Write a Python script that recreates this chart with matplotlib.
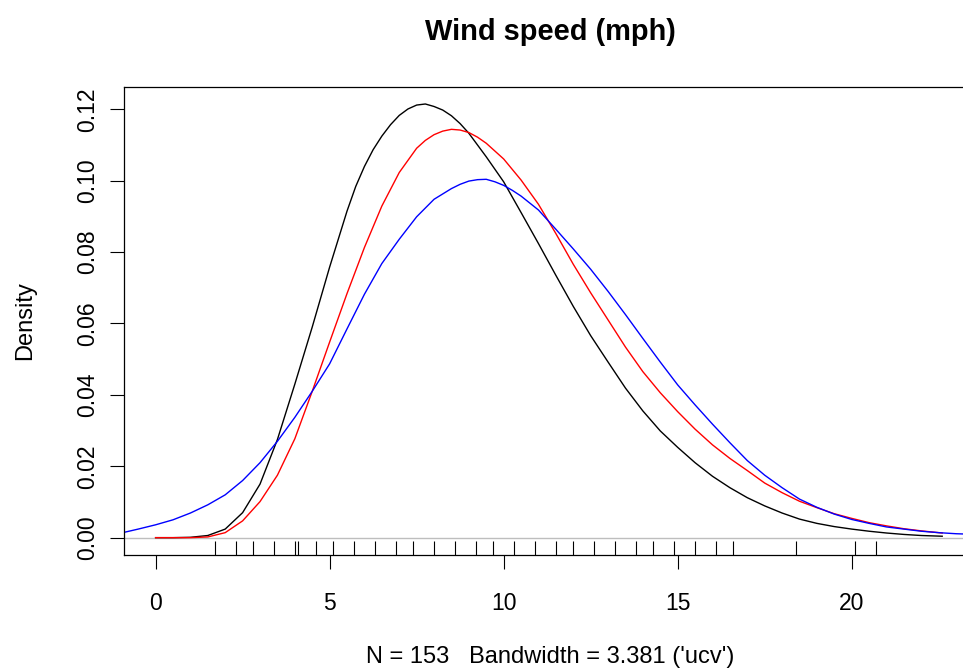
# coding: utf-8
import matplotlib
matplotlib.use('Agg')
import matplotlib.pyplot as plt

plt.rcParams['font.family'] = ['Liberation Sans', 'DejaVu Sans']

# 风速观测值 (rug)
wind = [1.7, 2.3, 2.8, 3.4, 4.0, 4.1, 4.6, 5.1, 5.7, 6.3, 6.9, 7.4, 8.0, 8.6,
        9.2, 9.7, 10.3, 10.9, 11.5, 12.0, 12.6, 13.2, 13.8, 14.3, 14.9, 15.5,
        16.1, 16.6, 18.4, 20.1, 20.7]

# 三条密度曲线
x_black = [0, 0.5, 1, 1.5, 2, 2.5, 3, 3.5, 4, 4.5, 5, 5.5, 5.75, 6, 6.25,
           6.5, 6.75, 7, 7.25, 7.5, 7.75, 8, 8.25, 8.5, 8.75, 9, 9.5, 10,
           10.5, 11, 11.5, 12, 12.5, 13, 13.5, 14, 14.5, 15, 15.5, 16, 16.5,
           17, 17.5, 18, 18.5, 19, 19.5, 20, 20.5, 21, 21.5, 22, 22.6]
y_black = [0.0000, 0.0000, 0.0001, 0.0006, 0.0024, 0.0070, 0.0150, 0.0275,
           0.0430, 0.0590, 0.0758, 0.0915, 0.0984, 0.1040, 0.1087, 0.1125,
           0.1157, 0.1183, 0.1201, 0.1212, 0.1215, 0.1208, 0.1198, 0.1182,
           0.1160, 0.1133, 0.1067, 0.0997, 0.0911, 0.0824, 0.0735, 0.0648,
           0.0566, 0.0492, 0.0419, 0.0355, 0.0299, 0.0253, 0.0210, 0.0172,
           0.0140, 0.0112, 0.0089, 0.0069, 0.0052, 0.0040, 0.0031, 0.0024,
           0.0018, 0.0013, 0.0009, 0.0006, 0.0004]

x_red = [0, 0.5, 1, 1.5, 2, 2.5, 3, 3.5, 4, 4.5, 5, 5.5, 6, 6.5, 7, 7.5,
         7.75, 8, 8.25, 8.5, 8.75, 9, 9.25, 9.5, 10, 10.5, 11, 11.5, 12, 12.5,
         13, 13.5, 14, 14.5, 15, 15.5, 16, 16.5, 17, 17.5, 18, 18.5, 19,
         19.5, 20, 20.5, 21, 21.5, 22, 22.6]
y_red = [0.0000, 0.0000, 0.0000, 0.0002, 0.0014, 0.0047, 0.0101, 0.0175,
         0.0277, 0.0410, 0.0548, 0.0684, 0.0813, 0.0929, 0.1023, 0.1091,
         0.1113, 0.1129, 0.1139, 0.1144, 0.1142, 0.1135, 0.1122, 0.1105,
         0.1061, 0.1002, 0.0934, 0.0852, 0.0766, 0.0686, 0.0610, 0.0534,
         0.0465, 0.0406, 0.0353, 0.0304, 0.0260, 0.0222, 0.0188, 0.0153,
         0.0126, 0.0102, 0.0084, 0.0067, 0.0054, 0.0042, 0.0033, 0.0025,
         0.0019, 0.0013]

x_blue = [-0.9, -0.5, 0, 0.5, 1, 1.5, 2, 2.5, 3, 3.5, 4, 4.5, 5, 5.5, 6, 6.5,
          7, 7.5, 8, 8.5, 8.75, 9, 9.25, 9.5, 9.75, 10, 10.25, 10.5, 11,
          11.5, 12, 12.5, 13, 13.5, 14, 14.5, 15, 15.5, 16, 16.5, 17, 17.5,
          18, 18.5, 19, 19.5, 20, 20.5, 21, 21.5, 22, 22.5, 23, 23.6]
y_blue = [0.0015, 0.0024, 0.0036, 0.0050, 0.0069, 0.0092, 0.0120, 0.0160,
          0.0210, 0.0270, 0.0337, 0.0410, 0.0487, 0.0585, 0.0682, 0.0768,
          0.0836, 0.0899, 0.0948, 0.0978, 0.0990, 0.0999, 0.1003, 0.1004,
          0.0997, 0.0987, 0.0973, 0.0957, 0.0918, 0.0864, 0.0809, 0.0752,
          0.0690, 0.0625, 0.0558, 0.0492, 0.0428, 0.0372, 0.0318, 0.0266,
          0.0216, 0.0175, 0.0140, 0.0108, 0.0085, 0.0066, 0.0051, 0.0040,
          0.0030, 0.0024, 0.0018, 0.0014, 0.0011, 0.0009]

x_ticks = [0, 5, 10, 15, 20]
y_ticks = [0.00, 0.02, 0.04, 0.06, 0.08, 0.10, 0.12]

W, H = 963, 668
fig = plt.figure(figsize=(W / 100, H / 100), dpi=100)
# 右边框画在画布外（原图被裁掉）
ax = fig.add_axes([124 / W, (H - 555) / H, (977 - 124) / W, (555 - 87) / H])

ax.axhline(0, color='#BEBEBE', lw=1.0, zorder=1)
ax.plot(x_black, y_black, color='black', lw=1.0)
ax.plot(x_red, y_red, color='red', lw=1.0)
ax.plot(x_blue, y_blue, color='blue', lw=1.0)
ax.vlines(wind, 0, 0.03, color='black', lw=0.8,
          transform=ax.get_xaxis_transform())

ax.set_xlim(-0.908, 23.6)
ax.set_ylim(-0.00486, 0.12626)
ax.set_xticks(x_ticks)
ax.set_yticks(y_ticks)
ax.set_xticklabels([str(t) for t in x_ticks])
ax.set_yticklabels(['%.2f' % t for t in y_ticks])
ax.tick_params(axis='both', length=10, width=0.8, labelsize=16.5)
ax.tick_params(axis='x', pad=17)
ax.tick_params(axis='y', pad=8, labelrotation=90)
for lab in ax.get_yticklabels():
    lab.set_va('center')

for s in ax.spines.values():
    s.set_linewidth(0.9)

cx = (124 + 977) / 2 / W
fig.text(cx, 1 - 40 / H, 'Wind speed (mph)', ha='center', va='baseline',
         fontsize=20.9, fontweight='bold')
fig.text(cx, 1 - 663 / H, "N = 153   Bandwidth = 3.381 ('ucv')",
         ha='center', va='baseline', fontsize=17)
fig.text(25 / W, 1 - 321 / H, 'Density', ha='center', va='center',
         rotation=90, fontsize=17)

plt.savefig('out.png', dpi=100)
